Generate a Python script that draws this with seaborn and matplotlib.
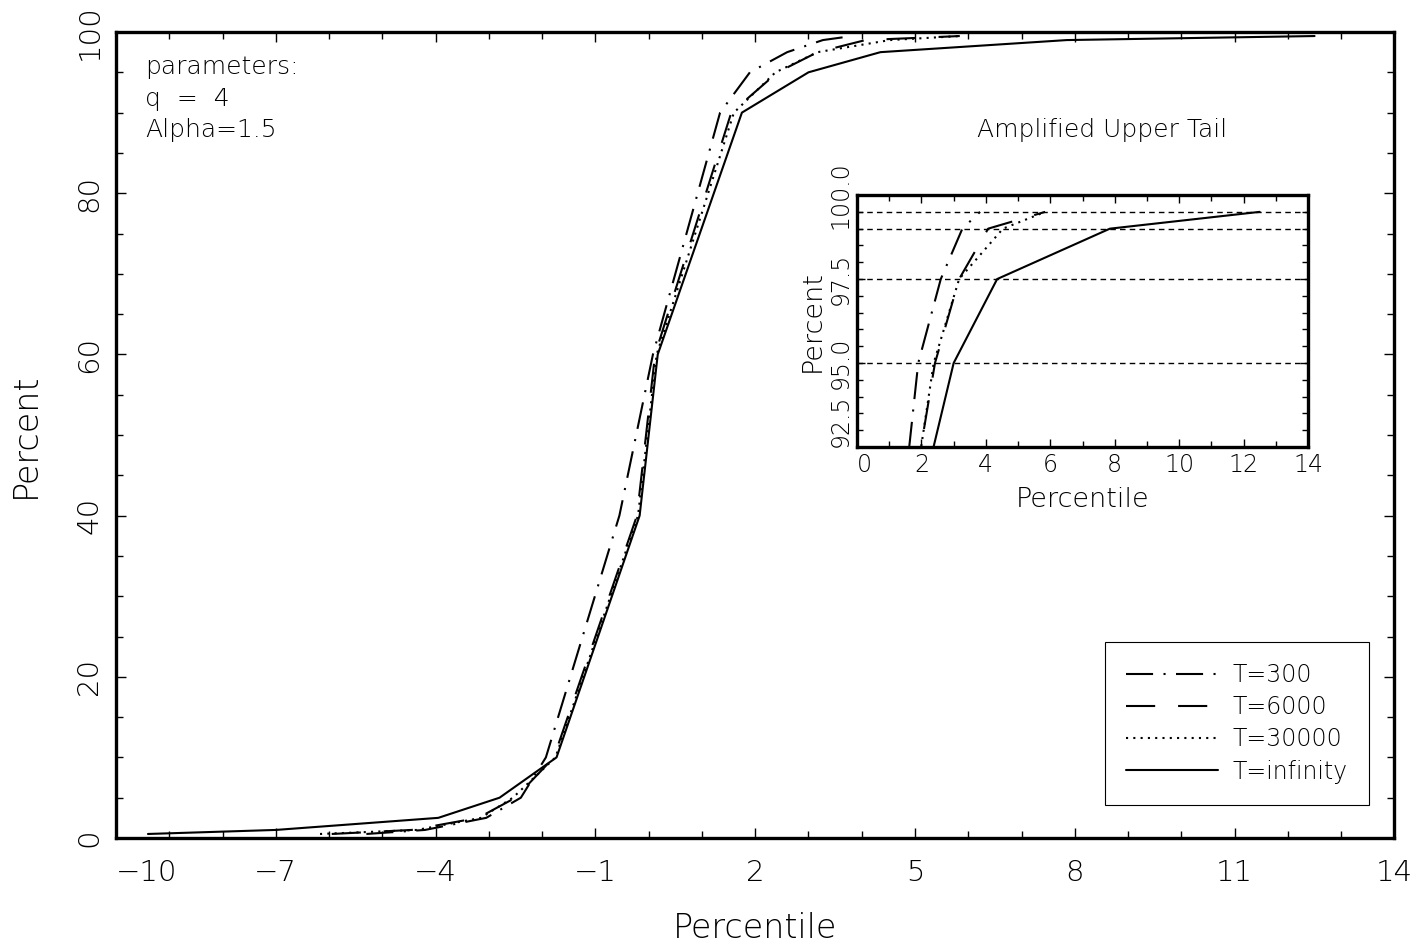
import matplotlib
matplotlib.use("Agg")
import numpy as np
import pandas as pd
import matplotlib.pyplot as plt
from matplotlib.ticker import MultipleLocator, FixedLocator, FormatStrFormatter
import seaborn as sns

# percent levels and the percentile values
pct = [0.5, 1, 2.5, 5, 10, 40, 60, 90, 95, 97.5, 99, 99.5]
t300 = [-5.3, -4.2, -3.05, -2.4, -1.93, -0.55, 0.08, 1.34, 1.9, 2.6, 3.27, 3.82]
t6000 = [-5.95, -4.45, -3.2, -2.5, -1.78, -0.22, 0.12, 1.55, 2.42, 3.17, 4.07, 5.84]
t30000 = [-6.17, -4.35, -3.15, -2.55, -1.75, -0.2, 0.15, 1.6, 2.38, 3.17, 4.53, 5.84]
tinf = [-9.4, -7.0, -3.95, -2.8, -1.73, -0.17, 0.17, 1.75, 3.0, 4.35, 7.85, 12.5]
labels = ["T=300", "T=6000", "T=30000", "T=infinity"]
tail_levels = [95, 97.5, 99, 99.5]
main_xticks = [-10, -7, -4, -1, 2, 5, 8, 11, 14]
main_yticks = [0, 20, 40, 60, 80, 100]
inset_xticks = [0, 2, 4, 6, 8, 10, 12, 14]
inset_yticks = [92.5, 95.0, 97.5, 100.0]

series = {"T=300": t300, "T=6000": t6000, "T=30000": t30000, "T=infinity": tinf}
df = pd.concat([pd.DataFrame({"x": v, "pct": pct, "T": k}) for k, v in series.items()])

styles = {
    "T=300": (0, (13, 5, 1, 5)),
    "T=6000": (0, (14, 11)),
    "T=30000": (0, (1, 2.5)),
    "T=infinity": "-",
}

sns.set_style("ticks")
plt.rcParams["font.family"] = ["DejaVu Sans"]
plt.rcParams["font.weight"] = 200
plt.rcParams["axes.labelweight"] = 200
for key in ["text.color", "axes.labelcolor", "xtick.color", "ytick.color", "axes.edgecolor"]:
    plt.rcParams[key] = "black"

fig = plt.figure(figsize=(14.18, 9.47), dpi=100)
ax = fig.add_axes([0.0818, 0.1151, 0.9016, 0.8511])
ins = fig.add_axes([0.6044, 0.528, 0.318, 0.266])


def draw(a, lw):
    for k in labels:
        sub = df[df["T"] == k]
        sns.lineplot(data=sub, x="x", y="pct", ax=a, color="black", lw=lw,
                     linestyle=styles[k], label=k, sort=False, legend=False)


draw(ax, 1.5)
draw(ins, 1.5)

# main axes
ax.set_xlim(-10, 14)
ax.set_ylim(0, 100)
ax.xaxis.set_major_locator(FixedLocator(main_xticks))
ax.xaxis.set_minor_locator(MultipleLocator(1))
ax.yaxis.set_major_locator(FixedLocator(main_yticks))
ax.yaxis.set_minor_locator(MultipleLocator(5))
ax.tick_params(which="both", direction="in", top=True, right=True, width=1, colors="black")
ax.tick_params(which="major", length=7.5)
ax.tick_params(which="minor", length=5)
ax.tick_params(axis="x", which="major", pad=15, labelsize=21)
ax.tick_params(axis="y", which="major", pad=9, labelsize=21)
for t in ax.get_yticklabels():
    t.set_rotation(90)
    t.set_va("center")
ax.get_xticklabels()[0].set_ha("left")
for s in ax.spines.values():
    s.set_linewidth(2.4)
ax.set_xlabel("Percentile", fontsize=24)
ax.set_ylabel("Percent", fontsize=24)
ax.xaxis.set_label_coords(0.5, -0.092)
ax.yaxis.set_label_coords(-0.058, 0.5)

ax.text(0.0227, 0.948, "parameters:", transform=ax.transAxes, fontsize=18, va="baseline")
ax.text(0.0227, 0.908, "q  =  4", transform=ax.transAxes, fontsize=18, va="baseline")
ax.text(0.0227, 0.870, "Alpha=1.5", transform=ax.transAxes, fontsize=18, va="baseline")
ax.text(0.7715, 0.870, "Amplified Upper Tail", transform=ax.transAxes, fontsize=18,
        va="baseline", ha="center")

handles = ax.get_lines()[:4]
leg = ax.legend(handles, labels, loc="lower right", bbox_to_anchor=(0.98, 0.041),
                borderaxespad=0, fontsize=17, handlelength=3.9, handletextpad=0.6,
                labelspacing=0.35, borderpad=0.9, fancybox=False, framealpha=1,
                edgecolor="black")
leg.get_frame().set_linewidth(0.8)

# inset
for lev in tail_levels:
    ins.axhline(lev, color="black", lw=1, linestyle=(0, (4, 3)))
ins.set_xlim(0, 14)
ins.set_ylim(92.5, 100)
ins.xaxis.set_major_locator(FixedLocator(inset_xticks))
ins.xaxis.set_minor_locator(MultipleLocator(1))
ins.yaxis.set_major_locator(FixedLocator(inset_yticks))
ins.yaxis.set_minor_locator(MultipleLocator(0.5))
ins.yaxis.set_major_formatter(FormatStrFormatter("%.1f"))
ins.tick_params(which="both", direction="in", top=True, right=True, width=1, colors="black")
ins.tick_params(which="major", length=6)
ins.tick_params(which="minor", length=4)
ins.tick_params(axis="x", which="major", pad=4, labelsize=17)
ins.tick_params(axis="y", which="major", pad=3, labelsize=17)
for t in ins.get_yticklabels():
    t.set_rotation(90)
    t.set_va("center")
ins.get_yticklabels()[0].set_va("bottom")
ins.get_xticklabels()[0].set_ha("left")
for s in ins.spines.values():
    s.set_linewidth(2.4)
ins.set_xlabel("Percentile", fontsize=19.5)
ins.set_ylabel("Percent", fontsize=19.5)
ins.xaxis.set_label_coords(0.5, -0.159)
ins.yaxis.set_label_coords(-0.071, 0.5)

fig.savefig("out.png", dpi=100)
